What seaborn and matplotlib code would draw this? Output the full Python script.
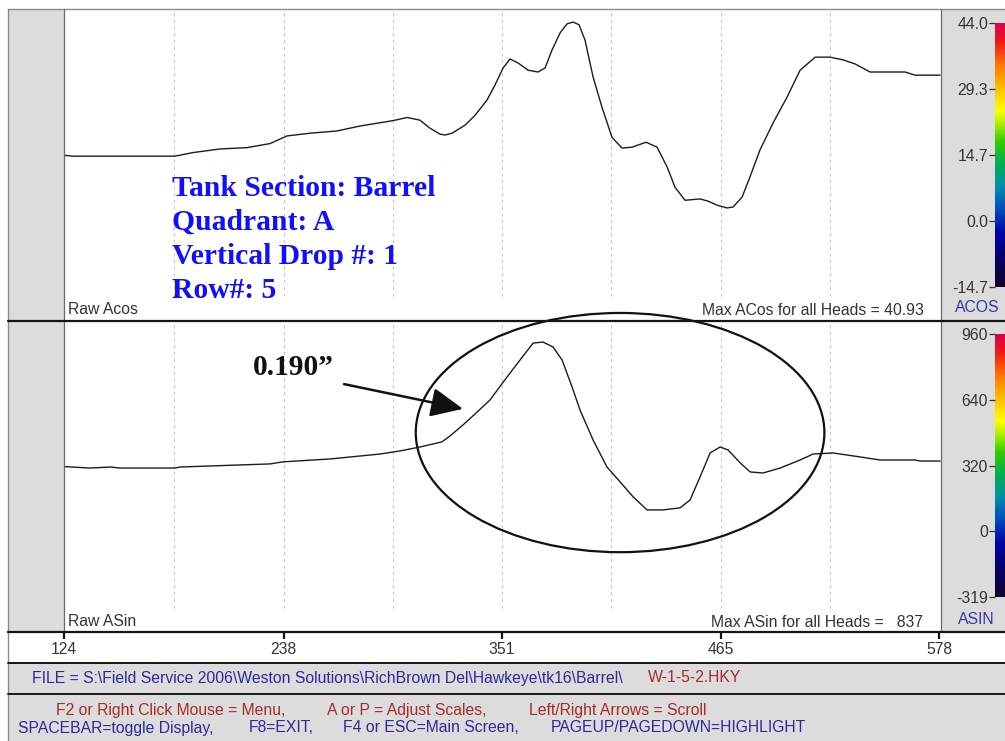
import numpy as np
import pandas as pd
import matplotlib
matplotlib.use("Agg")
import matplotlib.pyplot as plt
from matplotlib.patches import Rectangle, Ellipse
from matplotlib.lines import Line2D
from matplotlib.colors import LinearSegmentedColormap
import seaborn as sns

# ---------------- data ----------------
pos_acos = [124, 128.7, 181.6, 190.9, 204.9, 219.0, 230.9, 239.7, 251.6, 265.6,
            277.6, 294.7, 302.0, 308.7, 313.9, 319.1, 321.7, 325.3, 332.1, 337.3,
            343.5, 347.6, 351.8, 355.4, 359.6, 364.8, 369.9, 373.6, 377.2, 381.4,
            385.0, 388.1, 391.2, 394.3, 398.5, 403.1, 408.3, 413.5, 418.7, 426.0,
            431.7, 436.9, 441.0, 446.2, 454.0, 458.2, 462.9, 468.0, 471.1, 475.8,
            479.9, 485.1, 491.9, 499.1, 505.9, 513.7, 521.4, 528.2, 534.4, 542.2,
            550.0, 560.4, 565.5, 578.5]
val_acos = [14.6, 14.4, 14.4, 15.2, 16.0, 16.3, 17.2, 18.9, 19.5, 20.0,
            21.1, 22.3, 23.0, 22.4, 20.6, 19.3, 19.1, 19.5, 21.3, 23.5,
            26.9, 30.2, 34.0, 36.0, 35.1, 33.5, 33.1, 34.0, 38.0, 41.8,
            43.8, 44.2, 43.6, 40.2, 32.0, 25.3, 18.6, 16.2, 16.4, 17.5,
            16.4, 12.0, 7.5, 4.6, 4.9, 4.4, 3.5, 2.9, 3.1, 5.3,
            9.8, 15.8, 21.8, 27.5, 33.5, 36.4, 36.4, 35.8, 34.9, 33.1,
            33.1, 33.1, 32.4, 32.4]

pos_asin = [124, 137.5, 147.9, 153.1, 181.6, 184.2, 199.8, 230.9, 237.6, 262.0,
            288.0, 298.3, 308.7, 320.1, 324.3, 331.0, 337.8, 345.0, 353.9, 360.6,
            367.4, 372.5, 377.7, 382.4, 387.6, 391.7, 398.5, 405.7, 412.5, 419.3,
            426.5, 434.8, 443.6, 448.8, 454.0, 459.2, 464.4, 468.5, 474.8, 480.0,
            486.7, 495.5, 505.9, 512.6, 523.0, 537.0, 547.4, 565.5, 568.1, 578.5]
val_asin = [312, 305, 310, 305, 305, 310, 315, 325, 335, 349,
            373, 388, 407, 432, 461, 514, 572, 635, 747, 829,
            911, 916, 892, 829, 698, 587, 441, 310, 238, 165,
            102, 102, 112, 150, 262, 378, 407, 393, 330, 286,
            281, 305, 344, 373, 378, 359, 344, 344, 339, 339]

x_ticks = [124, 238, 351, 465, 578]
acos_ticks = [44.0, 29.3, 14.7, 0.0, -14.7]
asin_ticks = [960, 640, 320, 0, -319]

info_lines = ["Tank Section: Barrel", "Quadrant: A", "Vertical Drop #: 1", "Row#: 5"]
callout_label = "0.190\u201d"
acos_max_label = "Max ACos for all Heads = 40.93"
asin_max_label = "Max ASin for all Heads =   837"
file_path = "FILE = S:\\Field Service 2006\\Weston Solutions\\RichBrown Del\\Hawkeye\\tk16\\Barrel\\ "
file_name = "W-1-5-2.HKY"

acos_df = pd.DataFrame({"pos": pos_acos, "acos": val_acos})
asin_df = pd.DataFrame({"pos": pos_asin, "asin": val_asin})

# ---------------- style ----------------
sns.set_theme(style="white")
plt.rcParams["font.family"] = ["Liberation Sans", "DejaVu Sans"]

W, H = 1005, 741
fig = plt.figure(figsize=(W / 100, H / 100), dpi=100)
fig.patch.set_facecolor("white")

PANEL = "#dcdcdc"
TXT = "#333333"
BLUE_UI = "#2b2b98"
RED_UI = "#a82a2a"
UI_SIZE = 11.3


def box(x0, y0, x1, y1):
    return [x0 / W, 1 - y1 / H, (x1 - x0) / W, (y1 - y0) / H]


def frect(x0, y0, x1, y1, fc):
    fig.patches.append(Rectangle((x0 / W, 1 - y1 / H), (x1 - x0) / W, (y1 - y0) / H,
                                 transform=fig.transFigure, facecolor=fc,
                                 edgecolor="none", zorder=-5))


def hline(y, x0, x1, color, lw):
    fig.add_artist(Line2D([x0 / W, x1 / W], [1 - y / H, 1 - y / H], color=color,
                          lw=lw, transform=fig.transFigure, zorder=20))


def vline(x, y0, y1, color, lw):
    fig.add_artist(Line2D([x / W, x / W], [1 - y0 / H, 1 - y1 / H], color=color,
                          lw=lw, transform=fig.transFigure, zorder=20))


def ftext(x, y, s, **kw):
    kw.setdefault("fontsize", UI_SIZE)
    kw.setdefault("va", "center")
    fig.text(x / W, 1 - y / H, s, **kw)


# background panels
frect(8, 9, 64, 632, PANEL)
frect(941, 9, 1005, 632, PANEL)
frect(8, 663, 1005, 694, PANEL)
frect(8, 695, 1005, 741, PANEL)

cmap = LinearSegmentedColormap.from_list("spec", [
    (0.00, "#14002a"), (0.10, "#080060"), (0.20, "#0000a8"), (0.30, "#0050c0"),
    (0.38, "#0090a8"), (0.47, "#00b050"), (0.55, "#30cc00"), (0.62, "#b0ee00"),
    (0.67, "#ffff00"), (0.75, "#ffc400"), (0.84, "#ff7a00"), (0.93, "#f01818"),
    (1.00, "#dc0050")])

grid_x = sorted(x_ticks[1:-1] + [(a + b) / 2 for a, b in zip(x_ticks[:-1], x_ticks[1:])])
XLIM = (124, 579)


def trace_panel(rect, df, ycol, ylim, name, max_label, max_x, cb_rect, ticks, labels,
                tag, tag_xy):
    ax = fig.add_axes(box(*rect))
    ax.set_facecolor("white")
    ax.vlines(grid_x, 0.077, 1, transform=ax.get_xaxis_transform(),
              colors="#c8c8c8", linestyles=(0, (3, 3)), lw=0.8, zorder=1)
    sns.lineplot(data=df, x="pos", y=ycol, ax=ax, color="#1c1c1c", lw=1.0,
                 estimator=None, sort=False, zorder=3)
    ax.set_xlim(*XLIM)
    ax.set_ylim(*ylim)
    ax.set(xlabel="", ylabel="", xticks=[], yticks=[])
    for s in ax.spines.values():
        s.set_visible(False)
    ax.text(0.005, 0.035, name, transform=ax.transAxes, ha="left", va="center",
            fontsize=UI_SIZE, color=TXT)
    ax.text(max_x, 0.03, max_label, transform=ax.transAxes, ha="right", va="center",
            fontsize=UI_SIZE, color=TXT)

    cb = fig.add_axes(box(*cb_rect))
    lo, hi = ticks[-1], ticks[0]
    cb.imshow(np.linspace(lo, hi, 256)[:, None], aspect="auto", cmap=cmap,
              origin="lower", extent=[0, 1, lo, hi])
    cb.set_xlim(0, 1)
    cb.set_ylim(lo, hi)
    cb.set_xticks([])
    cb.set_yticks(ticks)
    cb.set_yticklabels(labels)
    cb.tick_params(axis="y", left=True, direction="out", length=4, width=0.9,
                   pad=1, labelsize=UI_SIZE, colors=TXT)
    for s in cb.spines.values():
        s.set_visible(False)
    ftext(tag_xy[0], tag_xy[1], tag, ha="center", color="#3535a8")
    return ax


ax_top = trace_panel((64, 9, 941, 320), acos_df, "acos", (-22.0, 47.1), "Raw Acos",
                     acos_max_label, 0.981, (995, 23, 1005, 287), acos_ticks,
                     [f"{v:.1f}" for v in acos_ticks], "ACOS", (977, 308))
ax_bot = trace_panel((64, 321, 941, 632), asin_df, "asin", (-490, 1018), "Raw ASin",
                     asin_max_label, 0.980, (995, 334, 1005, 597), asin_ticks,
                     [f"{v:d}" for v in asin_ticks], "ASIN", (976, 619))

# blue section information
for i, line in enumerate(info_lines):
    ftext(172, 196 + 34 * i, line, family=["Liberation Serif", "DejaVu Serif"],
          fontweight="bold", fontsize=21.3, color="#1010ff", va="baseline")

# highlighted region on the ASin trace
ax_bot.add_patch(Ellipse((412.5, 477), 212, 1160, fill=False, edgecolor="#111111",
                         lw=1.6, clip_on=False, zorder=6))
ax_bot.annotate("", xy=(331.0, 592), xytext=(269.3, 712),
                arrowprops=dict(arrowstyle="-|>,head_length=1.1,head_width=0.5",
                                color="#111111", lw=1.8, mutation_scale=18,
                                shrinkA=0, shrinkB=0),
                annotation_clip=False, zorder=7)
ftext(253, 375, callout_label, family=["Liberation Serif", "DejaVu Serif"],
      fontweight="bold", fontsize=21.3, color="#111111", va="baseline")

# position axis strip
ax_x = fig.add_axes(box(64, 632, 941, 662))
ax_x.set_facecolor("white")
ax_x.set_xlim(*XLIM)
ax_x.set_ylim(0, 1)
ax_x.set_yticks([])
ax_x.set_xticks(x_ticks)
ax_x.xaxis.set_ticks_position("top")
ax_x.tick_params(axis="x", direction="in", length=5, width=1.6, color="#111111",
                 labeltop=False, labelbottom=False)
for s in ax_x.spines.values():
    s.set_visible(False)
for t in x_ticks:
    ax_x.text(t, 0.4, str(t), transform=ax_x.get_xaxis_transform(), ha="center",
              va="center", fontsize=UI_SIZE, color=TXT)

# file line
ftext(32, 678, file_path, color=BLUE_UI)
ftext(648, 678, file_name, color=RED_UI)

# key help
ftext(56, 710, "F2 or Right Click Mouse = Menu,", color=RED_UI)
ftext(327, 710, "A or P = Adjust Scales,", color=RED_UI)
ftext(529, 710, "Left/Right Arrows = Scroll", color=RED_UI)
ftext(18, 728, "SPACEBAR=toggle Display,", color=BLUE_UI)
ftext(249, 728, "F8=EXIT,", color=BLUE_UI)
ftext(343, 728, "F4 or ESC=Main Screen,", color=BLUE_UI)
ftext(551, 728, "PAGEUP/PAGEDOWN=HIGHLIGHT", color=BLUE_UI)

# frame lines
hline(9, 8, 1005, "#8a8a8a", 1.0)
vline(8, 9, 741, "#8a8a8a", 1.0)
vline(64, 9, 632, "#6a6a6a", 0.9)
vline(941, 9, 632, "#6a6a6a", 0.9)
hline(320.5, 8, 1005, "#151515", 1.6)
hline(632, 8, 1005, "#151515", 1.6)
hline(662.5, 8, 1005, "#151515", 1.4)
hline(694, 8, 1005, "#151515", 1.4)

fig.savefig("out.png", dpi=100)
